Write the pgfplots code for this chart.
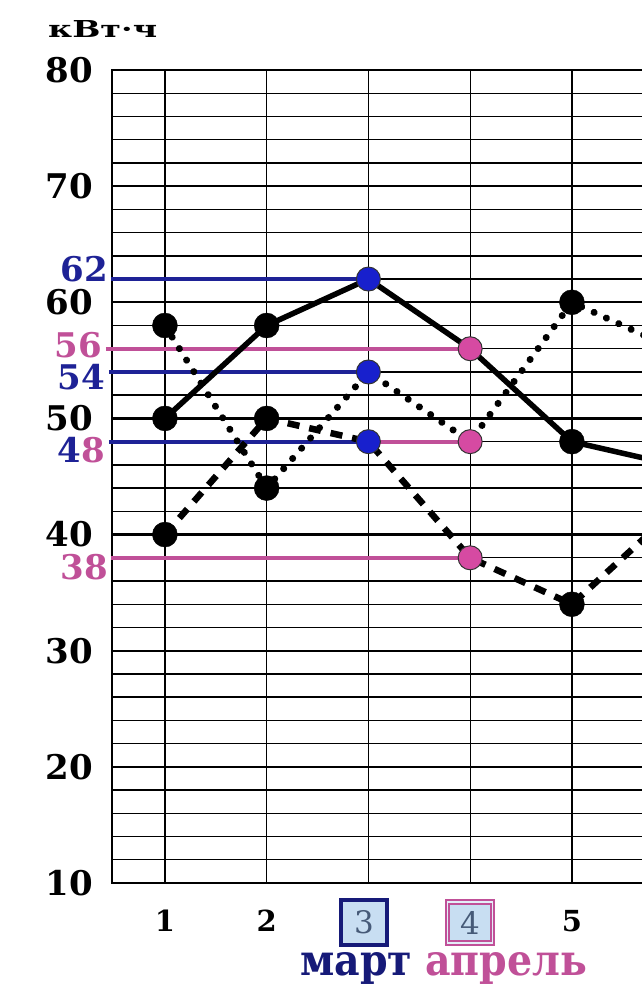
\documentclass[border=0pt]{standalone}
\usepackage{fontspec}
\setmainfont{DejaVu Serif}
\usepackage{pgfplots}
\pgfplotsset{compat=1.18}
\definecolor{mblue}{RGB}{30,34,150}
\definecolor{mnavy}{RGB}{22,26,120}
\definecolor{mbluefill}{RGB}{24,32,205}
\definecolor{mpink}{RGB}{192,80,152}
\definecolor{mpinkfill}{RGB}{214,74,162}
\definecolor{boxfill}{RGB}{200,222,242}
\definecolor{boxdigit}{RGB}{70,90,120}
\begin{document}
\begin{tikzpicture}
\begin{axis}[
  scale only axis, width=582pt, height=813pt,
  xmin=0.48, xmax=6.2, ymin=10, ymax=80,
  clip=false,
  axis line style={line width=2.4pt},
  xtick={1,2,3,4,5}, xticklabels={1,2,{},{},5},
  ytick={10,20,...,80},
  minor ytick={12,14,...,78},
  ymajorgrids, yminorgrids,
  major grid style={black, line width=2.3pt},
  minor grid style={black, line width=1.4pt},
  major tick length=0pt, minor tick length=0pt,
  /pgf/number format/assume math mode=true,
  yticklabel style={font=\fontsize{34}{34}\selectfont\bfseries, inner sep=0pt, anchor=east, xshift=-19pt},
  xticklabel style={font=\fontsize{29}{29}\selectfont\bfseries, inner sep=0pt, anchor=center, yshift=-38pt},
]
\pgfplotsinvokeforeach{1,2,3,4,5}{\draw[line width=1.3pt] (axis cs:#1,10) -- (axis cs:#1,80);}
% colored reference lines
\addplot[mblue, line width=4pt] coordinates {(0.47,62) (3,62)};
\addplot[mblue, line width=4pt] coordinates {(0.45,54) (3,54)};
\addplot[mblue, line width=4pt] coordinates {(0.45,48) (3,48)};
\addplot[mpink, line width=4pt] coordinates {(0.42,56) (4,56)};
\addplot[mpink, line width=4pt] coordinates {(0.47,38) (4,38)};
\addplot[mpink, line width=4pt] coordinates {(3,48) (4,48)};
% black series
\addplot[black, line width=5.5pt, line join=round] coordinates {(1,50) (2,58) (3,62) (4,56) (5,48) (6,46)};
\addplot[black, line width=7pt, line cap=round, dash pattern=on 0.1pt off 13.5pt] coordinates {(1,58) (2,44) (3,54) (4,48) (5,60) (6,56)};
\addplot[black, line width=6.5pt, dash pattern=on 12pt off 10pt] coordinates {(1,40) (2,50) (3,48) (4,38) (5,34) (6,42)};
% black markers
\addplot[only marks, mark=*, mark size=12.5pt, black] coordinates {(1,50) (2,58) (5,48) (6,46) (1,58) (2,44) (5,60) (6,56) (1,40) (2,50) (5,34) (6,42)};
% coloured markers
\addplot[only marks, mark=*, mark size=12pt, mark options={fill=mbluefill, draw=black!80, line width=1pt}] coordinates {(3,62) (3,54) (3,48)};
\addplot[only marks, mark=*, mark size=12pt, mark options={fill=mpinkfill, draw=black!80, line width=1pt}] coordinates {(4,56) (4,48) (4,38)};
\end{axis}
% value labels
\begin{scope}[every node/.style={inner sep=0pt, anchor=east, font=\fontsize{34}{34}\selectfont\bfseries}]
\node[text=mblue] at (-4pt,614pt) {62};
\node[text=mpink] at (-10pt,538pt) {56};
\node[text=mblue] at (-7pt,506pt) {54};
\node at (-7pt,433pt) {\textcolor{mblue}{4}\textcolor{mpink}{8}};
\node[text=mpink] at (-4pt,316pt) {38};
\end{scope}
% unit
\node[anchor=base west, inner sep=0pt] at (-64pt,845pt) {\resizebox{109pt}{17pt}{\bfseries кВт·ч}};
% boxed ticks
\node[draw=mnavy, line width=3.8pt, fill=boxfill, minimum width=46pt, minimum height=45pt, inner sep=0pt,
      text=boxdigit, font=\fontsize{31}{31}\selectfont] at (252pt,-39.5pt) {3};
\node[draw=mpink, line width=2pt, double=boxfill!50!white, double distance=1.2pt, fill=boxfill, minimum width=45pt, minimum height=41pt, inner sep=0pt,
      text=boxdigit, font=\fontsize{31}{31}\selectfont] at (358pt,-39.5pt) {4};
% month names
\node[anchor=base west, inner sep=0pt, text=mnavy] at (188pt,-92pt) {\resizebox{112pt}{23pt}{\fontsize{42}{42}\selectfont\bfseries март}};
\node[anchor=base west, inner sep=0pt, text=mpink] at (313pt,-92pt) {\resizebox{162pt}{23pt}{\fontsize{42}{42}\selectfont\bfseries апрель}};
\pgfresetboundingbox
\path[use as bounding box] (-112pt,-107pt) rectangle (530pt,883pt);
\end{tikzpicture}
\end{document}
